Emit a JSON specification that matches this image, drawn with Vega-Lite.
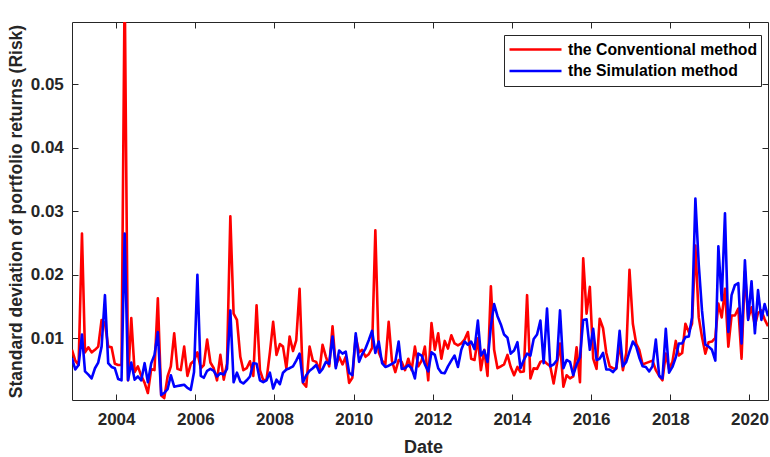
{
"$schema": "https://vega.github.io/schema/vega-lite/v6.json",
"width": 696, "height": 378,
"autosize": {"type": "none"},
"padding": {"left": 72, "top": 22, "right": 2, "bottom": 57},
"background": "white",
"config": {"view": {"stroke": null}, "font": "Liberation Sans",
 "axis": {"domainColor": "#262626", "tickColor": "#262626", "labelColor": "#262626", "titleColor": "#262626", "grid": false, "labelFont": "Liberation Sans", "titleFont": "Liberation Sans", "labelFontWeight": "bold", "titleFontWeight": "bold", "labelFontSize": 17, "tickSize": -6, "domainWidth": 1, "tickWidth": 1}},
"data": {"values": [
{"d":"2002-11-20","c":0.0082,"s":0.0069},
{"d":"2002-12-20","c":0.0065,"s":0.0051},
{"d":"2003-01-20","c":0.0058,"s":0.0058},
{"d":"2003-02-20","c":0.0265,"s":0.0106},
{"d":"2003-03-20","c":0.0078,"s":0.0048},
{"d":"2003-04-20","c":0.0086,"s":0.0043},
{"d":"2003-05-20","c":0.0078,"s":0.0037},
{"d":"2003-06-20","c":0.0082,"s":0.0053},
{"d":"2003-07-20","c":0.0087,"s":0.0062},
{"d":"2003-08-20","c":0.0129,"s":0.0087},
{"d":"2003-09-20","c":0.0124,"s":0.0168},
{"d":"2003-10-20","c":0.0087,"s":0.0061},
{"d":"2003-11-20","c":0.0086,"s":0.0055},
{"d":"2003-12-20","c":0.0060,"s":0.0053},
{"d":"2004-01-20","c":0.0058,"s":0.0036},
{"d":"2004-02-20","c":0.0058,"s":0.0034},
{"d":"2004-03-20","c":0.0660,"s":0.0265},
{"d":"2004-04-20","c":0.0034,"s":0.0034},
{"d":"2004-05-20","c":0.0132,"s":0.0062},
{"d":"2004-06-20","c":0.0047,"s":0.0035},
{"d":"2004-07-20","c":0.0056,"s":0.0040},
{"d":"2004-08-20","c":0.0041,"s":0.0034},
{"d":"2004-09-20","c":0.0030,"s":0.0061},
{"d":"2004-10-20","c":0.0014,"s":0.0031},
{"d":"2004-11-20","c":0.0052,"s":0.0061},
{"d":"2004-12-20","c":0.0050,"s":0.0074},
{"d":"2005-01-20","c":0.0163,"s":0.0110},
{"d":"2005-02-20","c":0.0010,"s":0.0011},
{"d":"2005-03-20","c":0.0006,"s":0.0014},
{"d":"2005-04-20","c":0.0040,"s":0.0020},
{"d":"2005-05-20","c":0.0056,"s":0.0042},
{"d":"2005-06-20","c":0.0108,"s":0.0024},
{"d":"2005-07-20","c":0.0052,"s":0.0025},
{"d":"2005-08-20","c":0.0050,"s":0.0026},
{"d":"2005-09-20","c":0.0087,"s":0.0027},
{"d":"2005-10-20","c":0.0041,"s":0.0022},
{"d":"2005-11-20","c":0.0060,"s":0.0019},
{"d":"2005-12-20","c":0.0065,"s":0.0047},
{"d":"2006-01-20","c":0.0078,"s":0.0200},
{"d":"2006-02-20","c":0.0053,"s":0.0041},
{"d":"2006-03-20","c":0.0058,"s":0.0038},
{"d":"2006-04-20","c":0.0098,"s":0.0049},
{"d":"2006-05-20","c":0.0062,"s":0.0052},
{"d":"2006-06-20","c":0.0053,"s":0.0049},
{"d":"2006-07-20","c":0.0034,"s":0.0040},
{"d":"2006-08-20","c":0.0074,"s":0.0045},
{"d":"2006-09-20","c":0.0035,"s":0.0043},
{"d":"2006-10-20","c":0.0060,"s":0.0052},
{"d":"2006-11-20","c":0.0292,"s":0.0144},
{"d":"2006-12-20","c":0.0139,"s":0.0031},
{"d":"2007-01-20","c":0.0129,"s":0.0046},
{"d":"2007-02-20","c":0.0071,"s":0.0032},
{"d":"2007-03-20","c":0.0050,"s":0.0029},
{"d":"2007-04-20","c":0.0053,"s":0.0034},
{"d":"2007-05-20","c":0.0064,"s":0.0040},
{"d":"2007-06-20","c":0.0041,"s":0.0061},
{"d":"2007-07-20","c":0.0152,"s":0.0060},
{"d":"2007-08-20","c":0.0050,"s":0.0034},
{"d":"2007-09-20","c":0.0034,"s":0.0031},
{"d":"2007-10-20","c":0.0035,"s":0.0034},
{"d":"2007-11-20","c":0.0078,"s":0.0046},
{"d":"2007-12-20","c":0.0126,"s":0.0021},
{"d":"2008-01-20","c":0.0074,"s":0.0035},
{"d":"2008-02-20","c":0.0091,"s":0.0028},
{"d":"2008-03-20","c":0.0087,"s":0.0046},
{"d":"2008-04-20","c":0.0053,"s":0.0051},
{"d":"2008-05-20","c":0.0103,"s":0.0053},
{"d":"2008-06-20","c":0.0080,"s":0.0056},
{"d":"2008-07-20","c":0.0097,"s":0.0065},
{"d":"2008-08-20","c":0.0178,"s":0.0076},
{"d":"2008-09-20","c":0.0030,"s":0.0031},
{"d":"2008-10-20","c":0.0024,"s":0.0042},
{"d":"2008-11-20","c":0.0087,"s":0.0049},
{"d":"2008-12-20","c":0.0065,"s":0.0053},
{"d":"2009-01-20","c":0.0063,"s":0.0058},
{"d":"2009-02-20","c":0.0050,"s":0.0046},
{"d":"2009-03-20","c":0.0090,"s":0.0052},
{"d":"2009-04-20","c":0.0071,"s":0.0063},
{"d":"2009-05-20","c":0.0056,"s":0.0060},
{"d":"2009-06-20","c":0.0119,"s":0.0103},
{"d":"2009-07-20","c":0.0056,"s":0.0053},
{"d":"2009-08-20","c":0.0071,"s":0.0081},
{"d":"2009-09-20","c":0.0059,"s":0.0076},
{"d":"2009-10-20","c":0.0071,"s":0.0079},
{"d":"2009-11-20","c":0.0030,"s":0.0046},
{"d":"2009-12-20","c":0.0038,"s":0.0042},
{"d":"2010-01-20","c":0.0103,"s":0.0108},
{"d":"2010-02-20","c":0.0078,"s":0.0063},
{"d":"2010-03-20","c":0.0082,"s":0.0075},
{"d":"2010-04-20","c":0.0071,"s":0.0084},
{"d":"2010-05-20","c":0.0075,"s":0.0097},
{"d":"2010-06-20","c":0.0085,"s":0.0112},
{"d":"2010-07-20","c":0.0270,"s":0.0077},
{"d":"2010-08-20","c":0.0078,"s":0.0095},
{"d":"2010-09-20","c":0.0065,"s":0.0061},
{"d":"2010-10-20","c":0.0059,"s":0.0055},
{"d":"2010-11-20","c":0.0126,"s":0.0057},
{"d":"2010-12-20","c":0.0065,"s":0.0060},
{"d":"2011-01-20","c":0.0047,"s":0.0063},
{"d":"2011-02-20","c":0.0066,"s":0.0095},
{"d":"2011-03-20","c":0.0063,"s":0.0052},
{"d":"2011-04-20","c":0.0050,"s":0.0053},
{"d":"2011-05-20","c":0.0068,"s":0.0058},
{"d":"2011-06-20","c":0.0050,"s":0.0053},
{"d":"2011-07-20","c":0.0087,"s":0.0037},
{"d":"2011-08-20","c":0.0056,"s":0.0076},
{"d":"2011-09-20","c":0.0065,"s":0.0073},
{"d":"2011-10-20","c":0.0087,"s":0.0059},
{"d":"2011-11-20","c":0.0034,"s":0.0048},
{"d":"2011-12-20","c":0.0124,"s":0.0078},
{"d":"2012-01-20","c":0.0082,"s":0.0074},
{"d":"2012-02-20","c":0.0108,"s":0.0053},
{"d":"2012-03-20","c":0.0068,"s":0.0046},
{"d":"2012-04-20","c":0.0096,"s":0.0045},
{"d":"2012-05-20","c":0.0084,"s":0.0056},
{"d":"2012-06-20","c":0.0105,"s":0.0065},
{"d":"2012-07-20","c":0.0092,"s":0.0073},
{"d":"2012-08-20","c":0.0089,"s":0.0055},
{"d":"2012-09-20","c":0.0092,"s":0.0082},
{"d":"2012-10-20","c":0.0098,"s":0.0095},
{"d":"2012-11-20","c":0.0110,"s":0.0090},
{"d":"2012-12-20","c":0.0068,"s":0.0095},
{"d":"2013-01-20","c":0.0066,"s":0.0083},
{"d":"2013-02-20","c":0.0100,"s":0.0128},
{"d":"2013-03-20","c":0.0050,"s":0.0073},
{"d":"2013-04-20","c":0.0082,"s":0.0081},
{"d":"2013-05-20","c":0.0041,"s":0.0063},
{"d":"2013-06-20","c":0.0182,"s":0.0119},
{"d":"2013-07-20","c":0.0082,"s":0.0154},
{"d":"2013-08-20","c":0.0053,"s":0.0135},
{"d":"2013-09-20","c":0.0056,"s":0.0122},
{"d":"2013-10-20","c":0.0059,"s":0.0106},
{"d":"2013-11-20","c":0.0074,"s":0.0101},
{"d":"2013-12-20","c":0.0055,"s":0.0076},
{"d":"2014-01-20","c":0.0042,"s":0.0081},
{"d":"2014-02-20","c":0.0055,"s":0.0094},
{"d":"2014-03-20","c":0.0047,"s":0.0053},
{"d":"2014-04-20","c":0.0048,"s":0.0066},
{"d":"2014-05-20","c":0.0168,"s":0.0076},
{"d":"2014-06-20","c":0.0037,"s":0.0073},
{"d":"2014-07-20","c":0.0053,"s":0.0099},
{"d":"2014-08-20","c":0.0052,"s":0.0106},
{"d":"2014-09-20","c":0.0063,"s":0.0128},
{"d":"2014-10-20","c":0.0065,"s":0.0061},
{"d":"2014-11-20","c":0.0060,"s":0.0147},
{"d":"2014-12-20","c":0.0056,"s":0.0056},
{"d":"2015-01-20","c":0.0029,"s":0.0059},
{"d":"2015-02-20","c":0.0060,"s":0.0066},
{"d":"2015-03-20","c":0.0092,"s":0.0144},
{"d":"2015-04-20","c":0.0024,"s":0.0053},
{"d":"2015-05-20","c":0.0042,"s":0.0066},
{"d":"2015-06-20","c":0.0037,"s":0.0063},
{"d":"2015-07-20","c":0.0040,"s":0.0042},
{"d":"2015-08-20","c":0.0086,"s":0.0059},
{"d":"2015-09-20","c":0.0031,"s":0.0070},
{"d":"2015-10-20","c":0.0226,"s":0.0129},
{"d":"2015-11-20","c":0.0139,"s":0.0130},
{"d":"2015-12-20","c":0.0181,"s":0.0082},
{"d":"2016-01-20","c":0.0068,"s":0.0115},
{"d":"2016-02-20","c":0.0052,"s":0.0066},
{"d":"2016-03-20","c":0.0131,"s":0.0068},
{"d":"2016-04-20","c":0.0116,"s":0.0077},
{"d":"2016-05-20","c":0.0077,"s":0.0051},
{"d":"2016-06-20","c":0.0056,"s":0.0051},
{"d":"2016-07-20","c":0.0053,"s":0.0047},
{"d":"2016-08-20","c":0.0052,"s":0.0053},
{"d":"2016-09-20","c":0.0092,"s":0.0112},
{"d":"2016-10-20","c":0.0050,"s":0.0056},
{"d":"2016-11-20","c":0.0077,"s":0.0063},
{"d":"2016-12-20","c":0.0208,"s":0.0079},
{"d":"2017-01-20","c":0.0123,"s":0.0095},
{"d":"2017-02-20","c":0.0092,"s":0.0087},
{"d":"2017-03-20","c":0.0082,"s":0.0070},
{"d":"2017-04-20","c":0.0059,"s":0.0056},
{"d":"2017-05-20","c":0.0061,"s":0.0055},
{"d":"2017-06-20","c":0.0063,"s":0.0048},
{"d":"2017-07-20","c":0.0065,"s":0.0056},
{"d":"2017-08-20","c":0.0050,"s":0.0098},
{"d":"2017-09-20","c":0.0041,"s":0.0041},
{"d":"2017-10-20","c":0.0034,"s":0.0037},
{"d":"2017-11-20","c":0.0076,"s":0.0115},
{"d":"2017-12-20","c":0.0052,"s":0.0046},
{"d":"2018-01-20","c":0.0063,"s":0.0055},
{"d":"2018-02-20","c":0.0096,"s":0.0070},
{"d":"2018-03-20","c":0.0073,"s":0.0092},
{"d":"2018-04-20","c":0.0077,"s":0.0092},
{"d":"2018-05-20","c":0.0123,"s":0.0102},
{"d":"2018-06-20","c":0.0110,"s":0.0103},
{"d":"2018-07-20","c":0.0123,"s":0.0133},
{"d":"2018-08-20","c":0.0246,"s":0.0320},
{"d":"2018-09-20","c":0.0133,"s":0.0216},
{"d":"2018-10-20","c":0.0102,"s":0.0144},
{"d":"2018-11-20","c":0.0076,"s":0.0090},
{"d":"2018-12-20","c":0.0094,"s":0.0087},
{"d":"2019-01-20","c":0.0095,"s":0.0082},
{"d":"2019-02-20","c":0.0101,"s":0.0065},
{"d":"2019-03-20","c":0.0155,"s":0.0245},
{"d":"2019-04-20","c":0.0133,"s":0.0160},
{"d":"2019-05-20","c":0.0178,"s":0.0297},
{"d":"2019-06-20","c":0.0087,"s":0.0110},
{"d":"2019-07-20","c":0.0136,"s":0.0168},
{"d":"2019-08-20","c":0.0136,"s":0.0184},
{"d":"2019-09-20","c":0.0147,"s":0.0187},
{"d":"2019-10-20","c":0.0068,"s":0.0092},
{"d":"2019-11-20","c":0.0205,"s":0.0223},
{"d":"2019-12-20","c":0.0131,"s":0.0129},
{"d":"2020-01-20","c":0.0149,"s":0.0190},
{"d":"2020-02-20","c":0.0120,"s":0.0108},
{"d":"2020-03-20","c":0.0140,"s":0.0176},
{"d":"2020-04-20","c":0.0144,"s":0.0129},
{"d":"2020-05-20","c":0.0130,"s":0.0154},
{"d":"2020-06-20","c":0.0119,"s":0.0135}
]},
"transform": [{"fold": ["c", "s"], "as": ["series", "value"]}],
"layer": [
 {"mark": {"type": "line", "strokeWidth": 2.6, "clip": true, "strokeJoin": "round"},
  "encoding": {
   "x": {"field": "d", "type": "temporal", "scale": {"nice": false},
     "axis": {"orient": "bottom", "format": "%Y", "tickCount": {"interval": "year", "step": 2}, "labelPadding": 17.6, "labelFlush": false, "title": "Date", "titleFontSize": 18, "titleBaseline": "alphabetic", "titleX": 351, "titleY": 52}},
   "y": {"field": "value", "type": "quantitative", "scale": {"domain": [0.0003, 0.0598], "nice": false, "zero": false},
     "axis": {"orient": "left", "values": [0.01, 0.02, 0.03, 0.04, 0.05], "format": ".2f", "labelPadding": 14.7, "title": "Standard deviation of portfolio returns (Risk)", "titleFontSize": 17.5, "titleAngle": -90, "titleAlign": "center", "titleBaseline": "alphabetic", "titleX": -50.3, "titleY": 189}},
   "color": {"field": "series", "type": "nominal",
     "scale": {"domain": ["c", "s"], "range": ["#ff0000", "#0000ff"]},
     "legend": {"orient": "none", "legendX": 432, "legendY": 13, "title": null, "direction": "vertical",
       "symbolType": "stroke", "symbolSize": 2704, "symbolStrokeWidth": 2.6,
       "labelFont": "Liberation Sans", "labelFontWeight": "bold", "labelFontSize": 15.75, "labelColor": "#000000",
       "labelOffset": 5, "labelLimit": 400, "strokeColor": "#262626", "fillColor": "#ffffff",
       "padding": 4, "clipHeight": 21, "rowPadding": 0.5,
       "labelExpr": "datum.label == 'c' ? 'the Conventional method' : 'the Simulation method'"}}
  }},
 {"mark": {"type": "line", "opacity": 0},
  "encoding": {
   "x": {"field": "d", "type": "temporal", "scale": {"nice": false},
     "axis": {"orient": "top", "labels": false, "title": null, "tickCount": {"interval": "year", "step": 2}}},
   "y": {"field": "value", "type": "quantitative", "scale": {"domain": [0.0003, 0.0598], "nice": false, "zero": false},
     "axis": {"orient": "right", "labels": false, "title": null, "values": [0.01, 0.02, 0.03, 0.04, 0.05]}}
  }}
],
"resolve": {"axis": {"x": "independent", "y": "independent"}}
}
